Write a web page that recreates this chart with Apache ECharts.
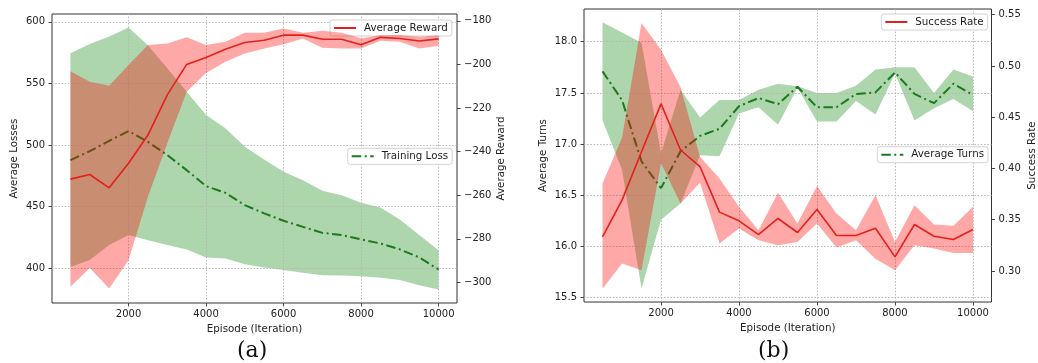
<!DOCTYPE html>
<html><head><meta charset="utf-8">
<script src="https://cdn.jsdelivr.net/npm/echarts@6/dist/echarts.min.js"></script>
<style>html,body{margin:0;padding:0;background:#fff}#c{width:1038px;height:363px}</style>
</head><body><div id="c"></div>
<script>
// ---------- data ----------
const episodes = [500,1000,1500,2000,2500,3000,3500,4000,4500,5000,5500,6000,6500,7000,7500,8000,8500,9000,9500,10000];

// (a) Training loss (left axis)
const lossMean  = [487.7,495.0,503.4,511.3,502.6,491.8,479.6,466.6,461.2,451.2,444.5,438.5,433.6,428.7,426.9,423.4,420.1,415.3,408.8,399.0];
const lossUpper = [574.5,582.0,588.0,595.4,581.0,562.2,543.2,524.3,513.5,498.5,488.3,478.2,471.5,462.8,459.3,453.1,449.3,439.6,426.9,414.7];
const lossLower = [401.1,406.6,418.8,426.9,422.8,418.8,415.3,408.8,408.0,403.3,400.6,398.5,396.3,394.4,394.2,393.6,392.2,390.4,386.3,382.8];

// (a) Average reward (right axis)
const rewardMean  = [-252.6,-250.5,-256.6,-245.3,-232.4,-214.0,-200.0,-196.8,-193.1,-190.0,-188.9,-186.6,-186.6,-188.5,-188.5,-191.0,-187.6,-188.1,-189.3,-188.3];
const rewardUpper = [-203.1,-208.0,-209.8,-200.3,-191.1,-190.4,-187.6,-191.1,-189.6,-185.5,-185.5,-183.5,-185.5,-184.6,-185.5,-188.0,-186.6,-186.5,-187.3,-186.6];
const rewardLower = [-302.0,-293.3,-302.8,-289.8,-260.7,-236.2,-212.6,-204.0,-198.8,-195.0,-192.7,-190.8,-188.1,-192.4,-192.7,-192.7,-189.2,-189.6,-192.7,-191.5];

// (b) Average turns (left axis)
const turnsMean  = [17.71,17.43,16.83,16.57,16.93,17.08,17.15,17.37,17.45,17.39,17.56,17.36,17.36,17.49,17.505,17.70,17.49,17.40,17.59,17.48];
const turnsUpper = [18.19,18.09,17.99,16.91,17.53,17.26,17.43,17.43,17.53,17.59,17.565,17.50,17.50,17.57,17.73,17.75,17.75,17.50,17.73,17.66];
const turnsLower = [17.23,16.75,15.59,16.26,16.42,16.89,16.88,17.30,17.36,17.19,17.55,17.22,17.22,17.42,17.29,17.69,17.23,17.35,17.44,17.32];

// (b) Success rate (right axis)
const successMean  = [0.3332,0.3691,0.4163,0.4630,0.4180,0.4017,0.3574,0.3489,0.3355,0.3512,0.3375,0.3600,0.3346,0.3346,0.3417,0.3137,0.3453,0.3339,0.3307,0.3404];
const successUpper = [0.3854,0.4300,0.5419,0.5158,0.4796,0.4115,0.3903,0.3626,0.3398,0.3763,0.3463,0.3828,0.3560,0.3398,0.3740,0.3283,0.3642,0.3453,0.3440,0.3626];
const successLower = [0.2827,0.3072,0.3006,0.4050,0.3659,0.3860,0.3267,0.3414,0.3300,0.3251,0.3283,0.3463,0.3228,0.3300,0.3120,0.3006,0.3251,0.3218,0.3176,0.3176];

// tick labels
const xTicks = [2000,4000,6000,8000,10000];
const lossTicks = [400,450,500,550,600];
const rewardTicks = [-300,-280,-260,-240,-220,-200,-180];
const turnsTicks = [15.5,16.0,16.5,17.0,17.5,18.0];
const successTicks = [0.30,0.35,0.40,0.45,0.50,0.55];

// ---------- styling ----------
const FONT = 'DejaVu Sans';
const TXT = '#222';
const GREEN = '#1b7a1b';
const RED = '#e3211c';
const GREEN_FILL = 'rgba(0,128,0,0.32)';
const RED_FILL = 'rgba(255,0,0,0.34)';
const DASHDOT = [9.5, 3.5, 2, 3.5];
const GRIDLINE = {color:'#b4b4b4', width:0.9, type:[1.6,1.6]};

const pairs = arr => episodes.map((x,i)=>[x, arr[i]]);
const minus = v => (v < 0 ? '\u2212' + Math.abs(v) : String(v));

function xAxis(gi){
  return {type:'value', gridIndex:gi, min:25, max:10475,
    name:'Episode (Iteration)', nameLocation:'middle', nameGap:20,
    nameTextStyle:{fontFamily:FONT,fontSize:10.3,color:TXT},
    axisLine:{show:false}, splitLine:{show:false},
    axisTick:{show:true, inside:false, length:3.5, customValues:xTicks, lineStyle:{color:'#333',width:0.9}},
    axisLabel:{customValues:xTicks, margin:6, fontFamily:FONT, fontSize:10, color:TXT, formatter:v=>String(v)}};
}
function yAxis(gi, pos, min, max, ticks, name, gap, fmt){
  return {type:'value', gridIndex:gi, position:pos, min:min, max:max,
    name:name, nameLocation:'middle', nameGap:gap, nameRotate:90,
    nameTextStyle:{fontFamily:FONT,fontSize:10.3,color:TXT},
    axisLine:{show:false}, splitLine:{show:false},
    axisTick:{show:true, inside:false, length:3.5, customValues:ticks, lineStyle:{color:'#333',width:0.9}},
    axisLabel:{customValues:ticks, margin:7, fontFamily:FONT, fontSize:10, color:TXT, formatter:fmt}};
}
// shaded band between lower and upper, drawn as one polygon through the axis scales
function band(name, xi, yi, upper, lower, color, z){
  return {name:name, type:'custom', xAxisIndex:xi, yAxisIndex:yi, z:z, silent:true,
    data: episodes.map((x,i)=>[x, lower[i], upper[i]]),
    encode:{x:0, y:[1,2]},
    renderItem:(params, api)=>{
      if (params.dataIndex !== 0) return null;
      const top = episodes.map((x,i)=>api.coord([x, upper[i]]));
      const bot = episodes.map((x,i)=>api.coord([x, lower[i]])).reverse();
      return {type:'polygon', shape:{points: top.concat(bot)}, style:{fill:color}, silent:true};
    }};
}
function meanLine(name, xi, yi, arr, color, width, type, z, gridY){
  const s = {name:name, type:'line', xAxisIndex:xi, yAxisIndex:yi, data:pairs(arr), symbol:'none',
    z:z, lineStyle:{color:color, width:width, type:type}, itemStyle:{color:color}};
  if (gridY) {
    s.markLine = {silent:true, symbol:['none','none'], animation:false, z:2.5,
      label:{show:false}, lineStyle:GRIDLINE, emphasis:{disabled:true},
      data: xTicks.map(v=>({xAxis:v})).concat(gridY.map(v=>({yAxis:v})))};
  }
  return s;
}

const legendCommon = {orient:'horizontal', itemWidth:22, itemHeight:10, padding:[3,4,3,3],
  backgroundColor:'rgba(255,255,255,0.85)', borderColor:'#d2d2d2', borderWidth:1, borderRadius:2.5,
  selectedMode:false, itemStyle:{opacity:0},
  textStyle:{fontFamily:FONT, fontSize:10.3, color:TXT, padding:[0,0,0,3]}};

const option = {
  animation:false,
  backgroundColor:'#fff',
  grid:[
    {left:52, top:14, width:405, height:289, show:true, borderColor:'#333', borderWidth:1, backgroundColor:'transparent'},
    {left:584, top:9, width:411, height:293, show:true, borderColor:'#333', borderWidth:1, backgroundColor:'transparent'}
  ],
  xAxis:[xAxis(0), xAxis(1)],
  yAxis:[
    yAxis(0,'left',371.8,606.3,lossTicks,'Average Losses',32.5,v=>String(v)),
    yAxis(0,'right',-309.4,-176.9,rewardTicks,'Average Reward',39,minus),
    yAxis(1,'left',15.457,18.32,turnsTicks,'Average Turns',36,v=>v.toFixed(1)),
    yAxis(1,'right',0.2697,0.5556,successTicks,'Success Rate',35.5,v=>v.toFixed(2))
  ],
  legend:[
    Object.assign({data:['Average Reward'], left:330, top:20}, legendCommon),
    Object.assign({data:['Training Loss'], left:347.7, top:148.3}, legendCommon),
    Object.assign({data:['Success Rate'], left:881.3, top:14}, legendCommon),
    Object.assign({data:['Average Turns'], left:877.3, top:146.7}, legendCommon)
  ],
  series:[
    band('lossBand',0,0,lossUpper,lossLower,GREEN_FILL,2),
    meanLine('Training Loss',0,0,lossMean,GREEN,2,DASHDOT,3,lossTicks),
    band('rewardBand',0,1,rewardUpper,rewardLower,RED_FILL,4),
    meanLine('Average Reward',0,1,rewardMean,RED,1.6,'solid',5,null),
    band('turnsBand',1,2,turnsUpper,turnsLower,GREEN_FILL,2),
    meanLine('Average Turns',1,2,turnsMean,GREEN,2,DASHDOT,3,turnsTicks),
    band('successBand',1,3,successUpper,successLower,RED_FILL,4),
    meanLine('Success Rate',1,3,successMean,RED,1.6,'solid',5,null)
  ],
  graphic:[
    {type:'text', left:237, top:340, style:{text:'(a)', font:'22px "DejaVu Serif"', fill:'#111'}},
    {type:'text', left:758, top:340, style:{text:'(b)', font:'22px "DejaVu Serif"', fill:'#111'}}
  ]
};
const chart = echarts.init(document.getElementById('c'), null, {renderer:'canvas'});
chart.setOption(option);
</script>
</body></html>
